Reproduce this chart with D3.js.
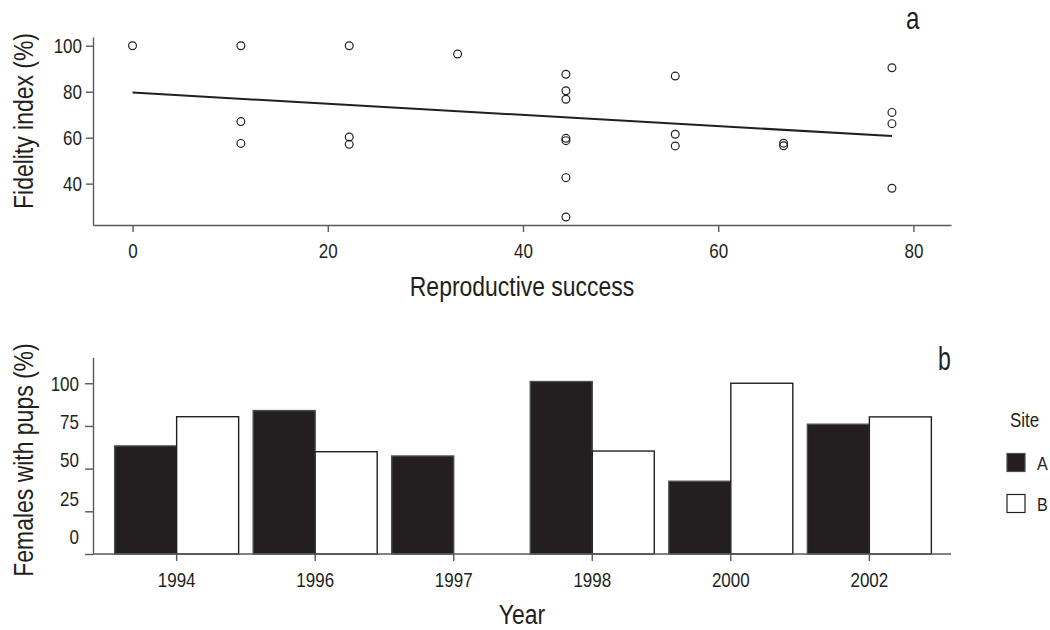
<!DOCTYPE html>
<html>
<head>
<meta charset="utf-8">
<script src="https://cdn.jsdelivr.net/npm/d3@7"></script>
<style>
  html, body { margin: 0; padding: 0; background: #fff; }
  svg { display: block; }
  text { font-family: "Liberation Sans", Arial, sans-serif; fill: #231f20; }
  .axis path, .axis line { stroke: #58595b; stroke-width: 1.4; }
  .axis text { font-size: 20px; fill: #231f20; }
</style>
</head>
<body>
<svg id="chart" width="1050" height="630"></svg>
<script>
// Panel a: fidelity index versus reproductive success
const successValues = [
  0,
  11.1, 11.1, 11.1,
  22.2, 22.2, 22.2,
  33.3,
  44.4, 44.4, 44.4, 44.4, 44.4, 44.4, 44.4,
  55.6, 55.6, 55.6,
  66.7, 66.7,
  77.8, 77.8, 77.8, 77.8
];
const fidelityValues = [
  100,
  100, 67.0, 57.5,
  100, 60.3, 57.1,
  96.4,
  87.6, 80.4, 76.7, 59.7, 58.7, 42.6, 25.5,
  86.8, 61.5, 56.4,
  57.6, 56.5,
  90.4, 71.0, 66.1, 38.0
];
// Fitted trend line, end points
const trendX = [0, 77.8];
const trendY = [79.6, 60.7];
const successTicks = [0, 20, 40, 60, 80];
const fidelityTicks = [40, 60, 80, 100];

// Panel b: females with pups by year and site
const years = ["1994", "1996", "1997", "1998", "2000", "2002"];
const sites = ["A", "B"];
const siteA = [63.3, 84.0, 57.4, 101, 42.6, 76.0];
const siteB = [80.4, 59.9, 0, 60.3, 100, 80.3];
const pupTicks = [0, 25, 50, 75, 100];

const svg = d3.select("#chart");

// Narrow lettering: horizontal squeeze applied around each text's anchor point
const NARROW = 0.85;
function label(x, y, str, size, opts = {}) {
  const k = opts.squeeze || NARROW;
  const rot = opts.rotate ? ` rotate(${opts.rotate})` : "";
  return svg.append("text")
    .attr("transform", `translate(${x},${y})${rot} scale(${k},1)`)
    .attr("text-anchor", opts.anchor || "start")
    .style("font-size", size + "px")
    .text(str);
}
function squeezeTicks(g) {
  g.selectAll(".tick text").each(function () {
    const t = d3.select(this);
    const x = +t.attr("x") || 0;
    t.attr("x", x / NARROW).attr("transform", `scale(${NARROW},1)`);
  });
}

// ---------- Panel a ----------
const xA = d3.scaleLinear().domain([-4.05, 83.85]).range([93, 951]);
const yA = d3.scaleLinear().domain([22, 103.8]).range([225, 37]);

svg.append("g").attr("class", "axis")
  .attr("transform", "translate(0,225)")
  .call(d3.axisBottom(xA).tickValues(successTicks).tickSize(7).tickSizeOuter(0).tickPadding(12).tickFormat(d3.format("d")))
  .call(squeezeTicks);

svg.append("g").attr("class", "axis")
  .attr("transform", "translate(93,0)")
  .call(d3.axisLeft(yA).tickValues(fidelityTicks).tickSize(7).tickSizeOuter(0).tickPadding(4).tickFormat(d3.format("d")))
  .call(squeezeTicks);

svg.append("line")
  .attr("x1", xA(trendX[0])).attr("y1", yA(trendY[0]))
  .attr("x2", xA(trendX[1])).attr("y2", yA(trendY[1]))
  .attr("stroke", "#231f20").attr("stroke-width", 2);

svg.append("g").selectAll("circle")
  .data(successValues.map((s, i) => ({ s, f: fidelityValues[i] })))
  .join("circle")
  .attr("cx", d => xA(d.s))
  .attr("cy", d => yA(d.f))
  .attr("r", 3.9)
  .attr("fill", "none")
  .attr("stroke", "#231f20")
  .attr("stroke-width", 1.2);

label(522, 296, "Reproductive success", 27, { anchor: "middle" });
label(33, 121, "Fidelity index (%)", 27, { anchor: "middle", rotate: -90 });
label(906, 29, "a", 31, { squeeze: 0.78 });

// ---------- Panel b ----------
const xB = d3.scaleBand().domain(years).range([94, 952]).paddingInner(0.105).paddingOuter(0.149);
const xSite = d3.scaleBand().domain(sites).range([0, xB.bandwidth()]);
const yB = d3.scaleLinear().domain([0, 115.2]).range([554, 357.3]);
// tick labels of the value axis sit on their own, slightly tighter spacing
const yBLabels = d3.scaleLinear().domain([0, 100]).range([537, 384]);

const fills = { A: "#231f20", B: "#ffffff" };
const strokes = { A: "#4d4d4f", B: "#231f20" };

const barData = [];
years.forEach((y, i) => {
  barData.push({ year: y, site: "A", value: siteA[i] });
  barData.push({ year: y, site: "B", value: siteB[i] });
});

svg.append("g").selectAll("rect")
  .data(barData.filter(d => d.value > 0))
  .join("rect")
  .attr("x", d => xB(d.year) + xSite(d.site))
  .attr("y", d => yB(d.value))
  .attr("width", xSite.bandwidth())
  .attr("height", d => yB(0) - yB(d.value))
  .attr("fill", d => fills[d.site])
  .attr("stroke", d => strokes[d.site])
  .attr("stroke-width", 1.4);

svg.append("g").attr("class", "axis")
  .attr("transform", "translate(0,554)")
  .call(d3.axisBottom(xB).tickSize(7).tickSizeOuter(0).tickPadding(12))
  .call(g => g.select(".domain").attr("d", "M93,0H951"))
  .call(squeezeTicks);

svg.append("g").attr("class", "axis")
  .attr("transform", "translate(93,0)")
  .call(d3.axisLeft(yB).tickValues(pupTicks).tickSize(8).tickSizeOuter(0).tickFormat(""));

svg.append("g").attr("class", "axis")
  .attr("transform", "translate(93,0)")
  .call(d3.axisLeft(yBLabels).tickValues(pupTicks).tickSize(0).tickPadding(14).tickFormat(d3.format("d")))
  .call(g => g.select(".domain").remove())
  .call(squeezeTicks);

label(522, 624, "Year", 27, { anchor: "middle" });
label(33, 460, "Females with pups (%)", 27, { anchor: "middle", rotate: -90 });
label(938, 370, "b", 33, { squeeze: 0.7 });

// Legend
label(1010, 427, "Site", 20);

const legendItems = svg.append("g").selectAll("g.item")
  .data(sites)
  .join("g")
  .attr("class", "item")
  .attr("transform", (d, i) => `translate(1007,${453.5 + i * 41})`);

legendItems.append("rect")
  .attr("width", 18).attr("height", 18)
  .attr("fill", d => fills[d])
  .attr("stroke", d => strokes[d])
  .attr("stroke-width", 1.2);

legendItems.append("text")
  .attr("transform", `translate(30,16) scale(${NARROW},1)`)
  .style("font-size", "19px")
  .text(d => d);
</script>
</body>
</html>
